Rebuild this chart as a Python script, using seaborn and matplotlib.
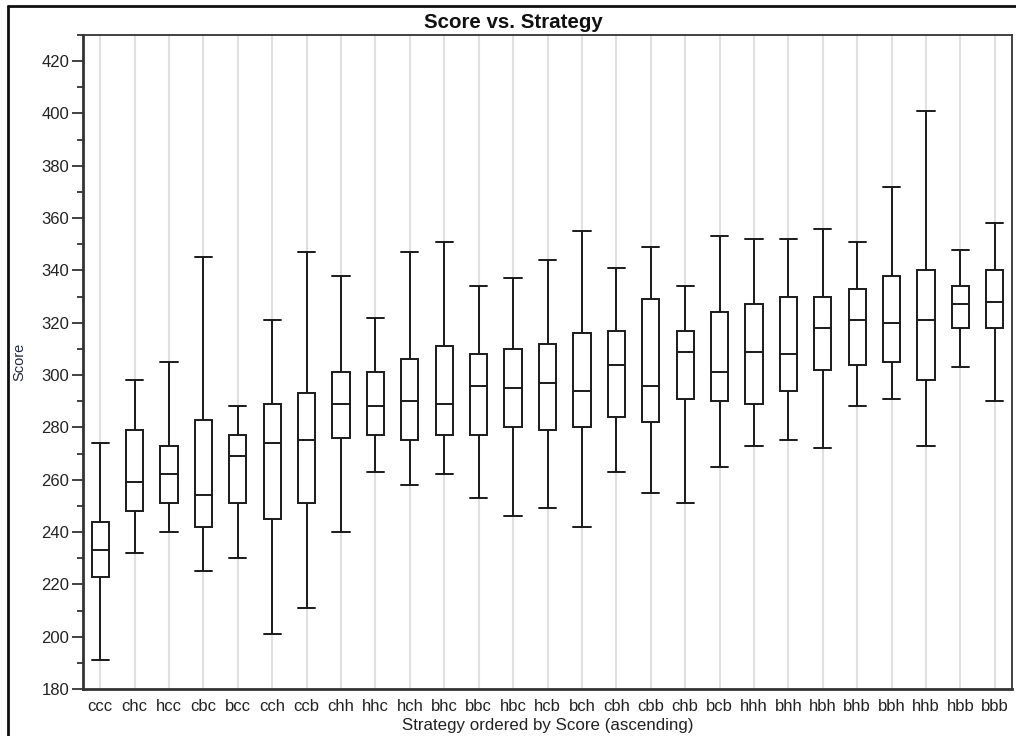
import matplotlib
matplotlib.use("Agg")
import matplotlib.pyplot as plt
from matplotlib.ticker import MultipleLocator
from matplotlib.lines import Line2D
import seaborn as sns
import pandas as pd

strategies = ["ccc", "chc", "hcc", "cbc", "bcc", "cch", "ccb", "chh", "hhc", "hch",
              "bhc", "bbc", "hbc", "hcb", "bch", "cbh", "cbb", "chb", "bcb", "hhh",
              "bhh", "hbh", "bhb", "bbh", "hhb", "hbb", "bbb"]
score_min = [191, 232, 240, 225, 230, 201, 211, 240, 263, 258,
             262, 253, 246, 249, 242, 263, 255, 251, 265, 273,
             275, 272, 288, 291, 273, 303, 290]
score_q1 = [223, 248, 251, 242, 251, 245, 251, 276, 277, 275,
            277, 277, 280, 279, 280, 284, 282, 291, 290, 289,
            294, 302, 304, 305, 298, 318, 318]
score_median = [233, 259, 262, 254, 269, 274, 275, 289, 288, 290,
                289, 296, 295, 297, 294, 304, 296, 309, 301, 309,
                308, 318, 321, 320, 321, 327, 328]
score_q3 = [244, 279, 273, 283, 277, 289, 293, 301, 301, 306,
            311, 308, 310, 312, 316, 317, 329, 317, 324, 327,
            330, 330, 333, 338, 340, 334, 340]
score_max = [274, 298, 305, 345, 288, 321, 347, 338, 322, 347,
             351, 334, 337, 344, 355, 341, 349, 334, 353, 352,
             352, 356, 351, 372, 401, 348, 358]

rows = []
for i, s in enumerate(strategies):
    for v in (score_min[i], score_q1[i], score_median[i], score_q3[i], score_max[i]):
        rows.append({"Strategy": s, "Score": v})
df = pd.DataFrame(rows)

sns.set_theme(style="white")
plt.rcParams["font.family"] = ["Liberation Sans", "DejaVu Sans"]

fig = plt.figure(figsize=(10.16, 7.36), dpi=100)
ax = fig.add_axes([83 / 1016, 47 / 736, (1012 - 83) / 1016, (689 - 35) / 736])

sns.boxplot(data=df, x="Strategy", y="Score", order=strategies, whis=(0, 100),
            width=0.5, color="white", linecolor="#1a1a1a", linewidth=1.4,
            saturation=1, ax=ax, zorder=3)

# make caps as wide as the boxes
for ln in ax.lines:
    xd = list(ln.get_xdata())
    yd = list(ln.get_ydata())
    if len(xd) == 2 and len(yd) == 2 and yd[0] == yd[1] and xd[0] != xd[1]:
        c = (xd[0] + xd[1]) / 2
        ln.set_xdata([c - 0.25, c + 0.25])

ax.set_axisbelow(True)
ax.xaxis.grid(True, color="#e0e0e0", linewidth=1.5)
ax.yaxis.grid(False)

ax.set_xlim(-0.5, len(strategies) - 0.5)
ax.set_ylim(180, 430)
ax.set_yticks([180 + 20 * k for k in range(13)])
ax.yaxis.set_minor_locator(MultipleLocator(10))
ax.tick_params(axis="y", which="major", length=8, width=1.3, color="#333333",
               labelsize=12, labelcolor="#222222", left=True, pad=2)
ax.tick_params(axis="y", which="minor", length=4, width=1.3, color="#333333", left=True)
ax.tick_params(axis="x", length=0, labelsize=12, labelcolor="#222222", pad=7)

for side in ["left", "bottom"]:
    ax.spines[side].set_linewidth(2)
    ax.spines[side].set_color("#333333")
for side in ["top", "right"]:
    ax.spines[side].set_linewidth(1.3)
    ax.spines[side].set_color("#333333")

ax.set_xlabel("Strategy ordered by Score (ascending)", fontsize=12.2, color="#222222", labelpad=3)
ax.set_ylabel("")
fig.text(19 / 1016, 1 - 362 / 736, "Score", rotation=90, ha="center", va="center",
         fontsize=10.5, color="#222a44")

fig.text(513 / 1016, 1 - 22 / 736, "Score vs. Strategy", ha="center", va="center",
         fontsize=14.8, fontweight="bold", color="#111111")

# outer frame around the chart (cut off at right and bottom)
fig.add_artist(Line2D([8 / 1016, 8 / 1016], [0, 1 - 6 / 736], transform=fig.transFigure,
                      color="#111111", linewidth=2))
fig.add_artist(Line2D([8 / 1016, 1], [1 - 6 / 736, 1 - 6 / 736], transform=fig.transFigure,
                      color="#111111", linewidth=2))

fig.savefig("out.png", dpi=100)
